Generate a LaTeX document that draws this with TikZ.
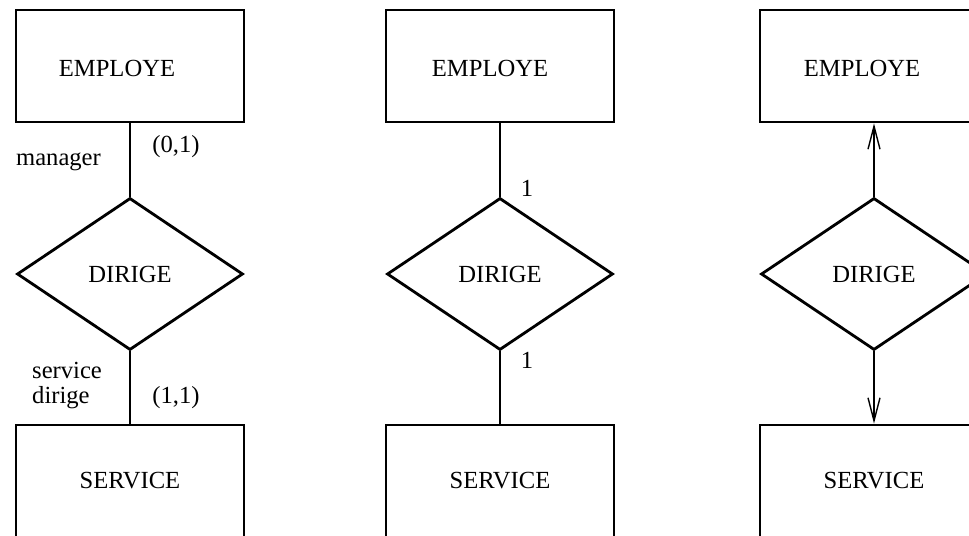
\documentclass[tikz,border=0pt]{standalone}
\usepackage{fontspec}
\setmainfont{Liberation Serif}
\usepackage{tikz}
\usetikzlibrary{shapes.geometric,arrows.meta}

\tikzset{
  entite/.style={draw,line width=1.6pt,minimum width=4.56cm,minimum height=2.24cm,inner sep=0pt},
  relation/.style={diamond,draw,line width=1.6pt,minimum width=4.52cm,minimum height=3.04cm,inner sep=0pt},
  lien/.style={line width=1.6pt}
}

\begin{document}
\begin{tikzpicture}[>={Straight Barb[length=4.6mm,width=2.4mm,line width=0.8pt]},scale=1,
    every node/.style={font=\fontsize{14}{14.4}\selectfont}]
	  \clip (0,0) rectangle (19.38,-10.72);
	  % cardinalites (min,max)
	  \node[entite] (e1) at (2.6,-1.32) {};
	  \node (te1) at (2.34,-1.36) {EMPLOYE};
	  \node[relation] (d1) at (2.6,-5.48) {DIRIGE};
	  \node[entite] (s1) at (2.6,-9.62) {SERVICE};
	  \draw[lien] (e1) -- (d1);
	  \draw[lien] (d1) -- (s1);
	  \node (c1) at (3.52,-2.94) {(0,1)};
	  \node (r1) at (1.17,-3.24) {manager};
	  \node[align=left,anchor=west] (r2) at (0.52,-7.71) {service\\dirige};
	  \node (c2) at (3.52,-7.96) {(1,1)};
	  % cardinalites max
	  \node[entite] (e2) at (10.0,-1.32) {};
	  \node (te2) at (9.8,-1.36) {EMPLOYE};
	  \node[relation] (d2) at (10.0,-5.48) {DIRIGE};
	  \node[entite] (s2) at (10.0,-9.62) {SERVICE};
	  \draw[lien] (e2) -- (d2);
	  \draw[lien] (d2) -- (s2);
	  \node (c3) at (10.54,-3.76) {1};
	  \node (c4) at (10.54,-7.2) {1};
	  % fleches
	  \node[entite] (e3) at (17.48,-1.32) {};
	  \node (te3) at (17.24,-1.36) {EMPLOYE};
	  \node[relation] (d3) at (17.48,-5.48) {DIRIGE};
	  \node[entite] (s3) at (17.48,-9.62) {SERVICE};
	  \draw[lien,->] (d3) -- (e3);
	  \draw[lien,->] (d3) -- (s3);
	\end{tikzpicture}
\end{document}
